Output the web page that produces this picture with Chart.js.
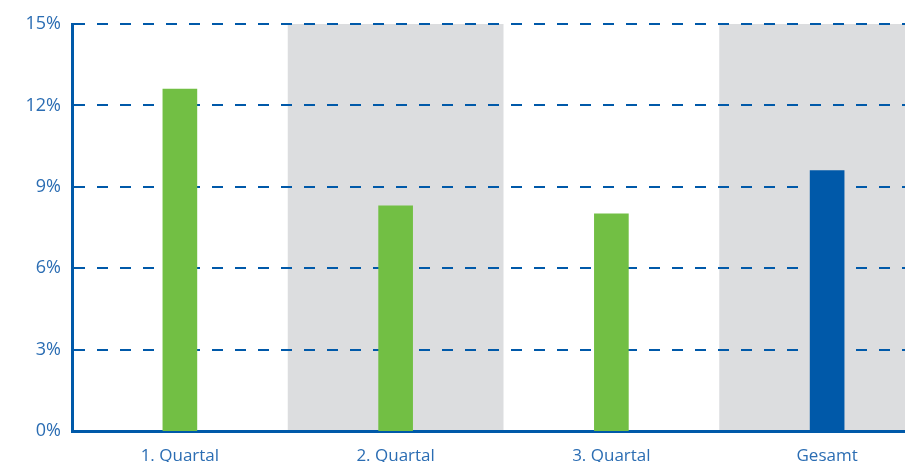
<!DOCTYPE html>
<html lang="de">
<head>
  <meta charset="UTF-8">
  <title>Quartale</title>
  <script src="https://cdn.jsdelivr.net/npm/chart.js"></script>
  <style>
    html, body {
      margin: 0;
      padding: 0;
      background: #ffffff;
      overflow: hidden;
    }
    #wrap {
      width: 935px;
      height: 480px;
    }
  </style>
</head>
<body>
  <div id="wrap">
    <canvas id="chart" width="935" height="480"></canvas>
  </div>
  <script>
    const categories = ['1. Quartal', '2. Quartal', '3. Quartal', 'Gesamt'];
    const values = [12.6, 8.3, 8.0, 9.6];
    const yTicks = [0, 3, 6, 9, 12, 15];
    const shadedCategories = [1, 3];

    const blue = '#0059a9';
    const green = '#72bf44';
    const labelBlue = '#2b6db3';

    // grey columns behind every second category, drawn before the grid
    const bandPlugin = {
      id: 'bands',
      beforeDraw(chart) {
        const { ctx, chartArea, scales } = chart;
        const x = scales.x;
        const w = x.width / categories.length;
        ctx.save();
        ctx.fillStyle = '#dcdddf';
        shadedCategories.forEach(i => {
          const cx = x.getPixelForValue(i);
          ctx.fillRect(cx - w / 2, chartArea.top, w, chartArea.bottom - chartArea.top);
        });
        ctx.restore();
      }
    };

    new Chart(document.getElementById('chart'), {
      type: 'bar',
      data: {
        labels: categories,
        datasets: [{
          data: values,
          backgroundColor: values.map((v, i) => i === categories.length - 1 ? blue : green),
          barThickness: 34,
          borderWidth: 0
        }]
      },
      options: {
        responsive: false,
        animation: false,
        layout: { padding: { top: 24, left: 0, right: 0, bottom: 0 } },
        plugins: {
          legend: { display: false },
          tooltip: { enabled: false }
        },
        scales: {
          x: {
            grid: { display: false, drawTicks: false },
            border: { color: blue, width: 3 },
            ticks: {
              color: labelBlue,
              padding: 15,
              font: { family: '"Open Sans", sans-serif', size: 17 }
            },
            afterFit(scale) { scale.height = 49; }
          },
          y: {
            min: 0,
            max: 15,
            afterBuildTicks(scale) {
              scale.ticks = yTicks.map(v => ({ value: v }));
            },
            grid: {
              color: blue,
              lineWidth: ctx => ctx.tick && ctx.tick.value === 0 ? 0 : 2,
              drawTicks: false
            },
            // in v4 the dash pattern of the grid lines lives under border
            border: { color: blue, width: 3, dash: [11, 12], dashOffset: 0 },
            ticks: {
              color: labelBlue,
              padding: 11,
              font: { family: '"Open Sans", sans-serif', size: 18 },
              callback: v => v + '%'
            },
            afterFit(scale) { scale.width = 72; }
          }
        }
      },
      plugins: [bandPlugin]
    });
  </script>
</body>
</html>
